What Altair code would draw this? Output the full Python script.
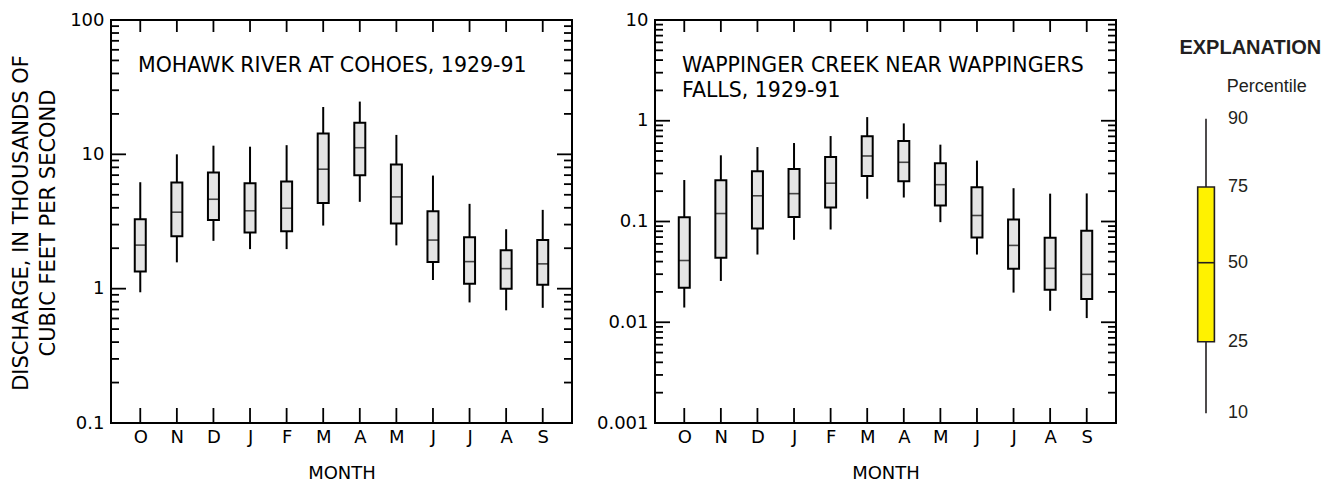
import altair as alt
import pandas as pd

# ---------------- data ----------------
month_keys = ["Oct", "Nov", "Dec", "Jan", "Feb", "Mar", "Apr", "May", "Jun", "Jul", "Aug", "Sep"]
month_letters = ["O", "N", "D", "J", "F", "M", "A", "M", "J", "J", "A", "S"]

# Mohawk River at Cohoes (thousands of ft3/s)
mohawk_p10 = [0.94, 1.57, 2.27, 1.97, 1.97, 2.95, 4.43, 2.10, 1.16, 0.79, 0.69, 0.72]
mohawk_p25 = [1.34, 2.46, 3.25, 2.62, 2.68, 4.35, 6.99, 3.05, 1.58, 1.09, 1.00, 1.07]
mohawk_p50 = [2.11, 3.71, 4.63, 3.80, 3.97, 7.75, 11.2, 4.82, 2.30, 1.59, 1.41, 1.53]
mohawk_p75 = [3.29, 6.17, 7.32, 6.10, 6.27, 14.3, 17.2, 8.39, 3.77, 2.41, 1.93, 2.30]
mohawk_p90 = [6.2, 10.0, 11.6, 11.4, 11.7, 22.5, 24.7, 13.95, 6.95, 4.28, 2.77, 3.86]

# Wappinger Creek near Wappingers Falls (thousands of ft3/s)
wapp_p10 = [0.014, 0.0257, 0.047, 0.0658, 0.0833, 0.168, 0.173, 0.0985, 0.047, 0.0197, 0.013, 0.011]
wapp_p25 = [0.022, 0.0437, 0.085, 0.111, 0.138, 0.283, 0.251, 0.144, 0.0695, 0.034, 0.021, 0.017]
wapp_p50 = [0.041, 0.12, 0.18, 0.189, 0.24, 0.447, 0.387, 0.232, 0.1147, 0.0579, 0.0343, 0.0299]
wapp_p75 = [0.11, 0.257, 0.315, 0.332, 0.437, 0.70, 0.629, 0.378, 0.219, 0.1047, 0.0689, 0.0809]
wapp_p90 = [0.258, 0.454, 0.548, 0.601, 0.705, 1.087, 0.941, 0.579, 0.402, 0.214, 0.189, 0.19]

left_title = "MOHAWK RIVER AT COHOES, 1929-91"
right_title = "WAPPINGER CREEK NEAR WAPPINGERS\nFALLS, 1929-91"
y_title = ["DISCHARGE, IN THOUSANDS OF", "CUBIC FEET PER SECOND"]
x_title = "MONTH"

left_major = [0.1, 1, 10, 100]
left_minor = [m * d for d in [0.1, 1, 10] for m in [2, 3, 4, 5, 6, 7, 8, 9]]
right_major = [0.001, 0.01, 0.1, 1, 10]
right_minor = [m * d for d in [0.001, 0.01, 0.1, 1] for m in [2, 3, 4, 5, 6, 7, 8, 9]]

legend_pct = [10, 25, 50, 75, 90]
legend_labels = ["10", "25", "50", "75", "90"]

# ---------------- layout/style ----------------
W, H = 461, 403
SPACING = 83
FONT = "DejaVu Sans"
LFONT = "Liberation Sans"
BOXFILL = "#e4e4e4"

label_expr = "[" + ",".join(f"'{l}'" for l in month_letters) + "][indexof([" + \
    ",".join(f"'{k}'" for k in month_keys) + "], datum.value)]"


def panel(p10, p25, p50, p75, p90, domain, major, minor, title_text, ytitle):
    df = pd.DataFrame({"key": month_keys, "p10": p10, "p25": p25, "p50": p50,
                       "p75": p75, "p90": p90})
    yscale = alt.Scale(type="log", domain=domain, nice=False)
    xscale = alt.Scale(type="point", padding=0.8, domain=month_keys)
    xaxis = alt.Axis(labelExpr=label_expr, ticks=False, tickSize=0, domain=False, grid=False,
                     labelAngle=0, labelPadding=5, labelFontSize=18, titleFontSize=18,
                     titleFontWeight="normal", titleY=50, titleBaseline="middle")
    if ytitle:
        yaxis = alt.Axis(values=major, format="~g", ticks=False, tickSize=0, domain=False,
                         grid=False, labelPadding=7, labelFontSize=18, titleFontSize=21,
                         titleFontWeight="normal", titleX=-90, titleY=H / 2 + 1, titleAngle=270,
                         titleBaseline="middle", titleAlign="center", titleLineHeight=27)
    else:
        yaxis = alt.Axis(values=major, format="~g", ticks=False, tickSize=0, domain=False,
                         grid=False, labelPadding=7, labelFontSize=18)

    def Y(f):
        if ytitle:
            return alt.Y(f, scale=yscale, axis=yaxis, title=ytitle)
        return alt.Y(f, scale=yscale, axis=yaxis, title=None)

    def X():
        return alt.X("key:N", scale=xscale, axis=xaxis, title=x_title, sort=month_keys)

    whisk = alt.Chart(df).mark_rule(color="black", strokeWidth=2).encode(
        x=X(), y=Y("p10:Q"), y2="p90:Q")
    box = alt.Chart(df).mark_bar(size=11, fill=BOXFILL, stroke="black", strokeWidth=2).encode(
        x=X(), y=Y("p25:Q"), y2="p75:Q")
    med = alt.Chart(df).mark_tick(color="black", thickness=1.6, size=11).encode(
        x=X(), y=Y("p50:Q"))

    maj = pd.DataFrame({"v": major})
    mnr = pd.DataFrame({"v": minor})
    tick_style = dict(color="black", strokeWidth=1.8)
    ymaj_l = alt.Chart(maj).mark_rule(**tick_style).encode(
        y=Y("v:Q"), x=alt.value(0), x2=alt.value(15))
    ymaj_r = alt.Chart(maj).mark_rule(**tick_style).encode(
        y=Y("v:Q"), x=alt.value(W - 15), x2=alt.value(W))
    ymin_l = alt.Chart(mnr).mark_rule(**tick_style).encode(
        y=Y("v:Q"), x=alt.value(0), x2=alt.value(8))
    ymin_r = alt.Chart(mnr).mark_rule(**tick_style).encode(
        y=Y("v:Q"), x=alt.value(W - 8), x2=alt.value(W))
    xt_b = alt.Chart(df).mark_rule(**tick_style).encode(
        x=X(), y=alt.value(H - 15), y2=alt.value(H))
    xt_t = alt.Chart(df).mark_rule(**tick_style).encode(
        x=X(), y=alt.value(0), y2=alt.value(12))

    ttl = alt.Chart(pd.DataFrame({"t": [title_text]})).mark_text(
        align="left", baseline="top", font=FONT, fontSize=20.5, lineBreak="\n",
        lineHeight=25, color="black").encode(
        x=alt.value(27), y=alt.value(35.5), text="t:N")

    return alt.layer(whisk, box, med, ymaj_l, ymaj_r, ymin_l, ymin_r, xt_b, xt_t, ttl).properties(
        width=W, height=H)


left = panel(mohawk_p10, mohawk_p25, mohawk_p50, mohawk_p75, mohawk_p90, [0.1, 100],
             left_major, left_minor, left_title, y_title)
right = panel(wapp_p10, wapp_p25, wapp_p50, wapp_p75, wapp_p90, [0.001, 10],
              right_major, right_minor, right_title, None)

# ---------------- explanation (legend) ----------------
lscale = alt.Scale(domain=legend_pct, range=[393.3, 321.7, 242.7, 167, 98.7])
ldf = pd.DataFrame({"p10": [legend_pct[0]], "p25": [legend_pct[1]], "p50": [legend_pct[2]],
                    "p75": [legend_pct[3]], "p90": [legend_pct[4]]})
lab_df = pd.DataFrame({"pct": legend_pct, "label": legend_labels})
DARK = "#231f20"
BX0, BX1, WX = -1.3, 15.4, 7.0

l_wh = alt.Chart(ldf).mark_rule(color=DARK, strokeWidth=1.6).encode(
    x=alt.value(WX), y=alt.Y("p10:Q", scale=lscale, axis=None), y2="p90:Q")
l_box = alt.Chart(ldf).mark_rect(fill="#fff200", stroke=DARK, strokeWidth=1.6).encode(
    x=alt.value(BX0), x2=alt.value(BX1), y=alt.Y("p25:Q", scale=lscale, axis=None), y2="p75:Q")
l_med = alt.Chart(ldf).mark_rule(color=DARK, strokeWidth=1.6).encode(
    x=alt.value(BX0), x2=alt.value(BX1), y=alt.Y("p50:Q", scale=lscale, axis=None))
l_lab = alt.Chart(lab_df).mark_text(align="left", baseline="middle", font=LFONT, fontSize=18,
                                     color=DARK).encode(
    x=alt.value(29), y=alt.Y("pct:Q", scale=lscale, axis=None), text="label:N")
l_hdr = alt.Chart(pd.DataFrame({"t": ["EXPLANATION"]})).mark_text(
    align="left", baseline="alphabetic", font=LFONT, fontSize=20, fontWeight="bold",
    color=DARK).encode(x=alt.value(-19.6), y=alt.value(33.5), text="t:N")
l_sub = alt.Chart(pd.DataFrame({"t": ["Percentile"]})).mark_text(
    align="left", baseline="alphabetic", font=LFONT, fontSize=18, color=DARK).encode(
    x=alt.value(27.7), y=alt.value(71.5), text="t:N")

legend = alt.layer(l_wh, l_box, l_med, l_lab, l_hdr, l_sub).properties(
    width=110, height=H, view=alt.ViewBackground(stroke="transparent"))

chart = alt.hconcat(left, right, legend, spacing=SPACING, bounds="flush").properties(
    padding={"left": 0, "top": 2, "right": 0, "bottom": 0}
).configure_view(stroke="black", strokeWidth=2).configure_axis(
    labelFont=FONT, titleFont=FONT, labelColor="black", titleColor="black"
)

chart.save("out.html", embed_options={"renderer": "svg", "actions": False})
